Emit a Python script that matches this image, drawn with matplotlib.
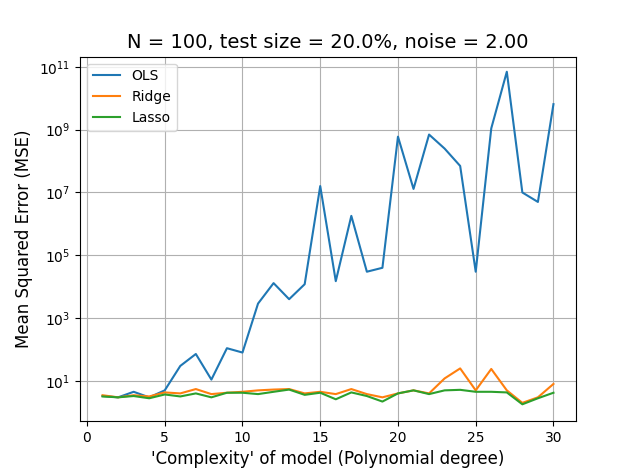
import matplotlib
matplotlib.use("Agg")
import matplotlib.pyplot as plt

degrees = list(range(1, 31))
ols = [3.3,3,4.5,3,5,30,72,11,110,80,2900,13000,4000,12000,1.6e7,15000,1.8e6,30000,40000,6e8,
       1.3e7,7e8,2.5e8,7e7,30000,1.1e9,7e10,1e7,5e6,6.5e9]
ridge = [3.5,3,3.5,3.2,4.3,4,5.5,3.8,4.2,4.5,5,5.3,5.5,4,4.5,3.8,5.5,3.8,3,4,5,4,12,25,5,24,5,2,3,8]
lasso = [3.2,3,3.3,2.8,3.7,3.2,4,3,4.2,4.2,3.8,4.5,5.3,3.6,4.2,2.6,4.3,3.3,2.2,4,5,3.8,5,5.2,4.5,4.5,4.3,1.8,2.8,4.2]
yticks = [1e1, 1e3, 1e5, 1e7, 1e9, 1e11]

fig, ax = plt.subplots(figsize=(6.4, 4.73), dpi=100)
ax.plot(degrees, ols, label="OLS")
ax.plot(degrees, ridge, label="Ridge")
ax.plot(degrees, lasso, label="Lasso")
ax.set_yscale("log")
ax.set_ylim(0.53, 2.1e11)
ax.set_yticks(yticks)
ax.grid(True)
ax.legend(loc="upper left")
ax.set_title("N = 100, test size = 20.0%, noise = 2.00", fontsize=14)
ax.set_xlabel("'Complexity' of model (Polynomial degree)", fontsize=12)
ax.set_ylabel("Mean Squared Error (MSE)", fontsize=12)
fig.savefig("out.png")
